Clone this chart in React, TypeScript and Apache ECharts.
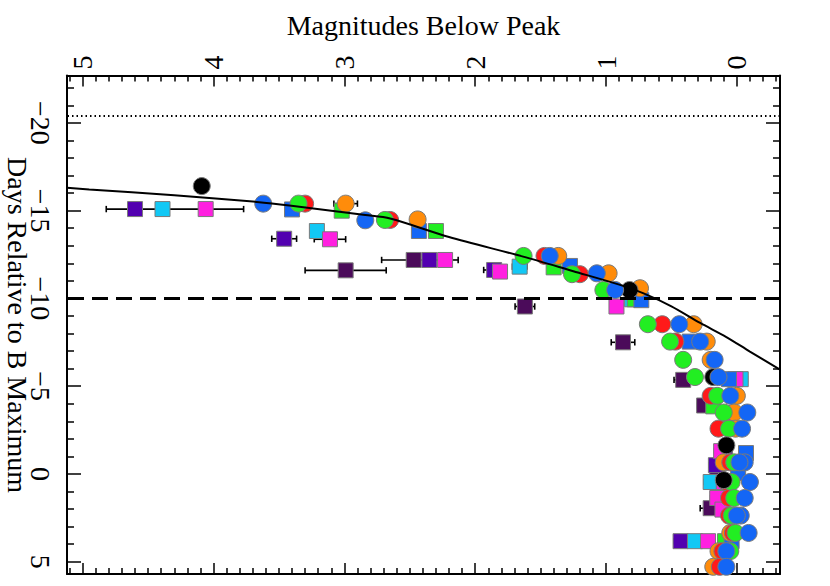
import React, { useEffect, useRef } from 'react';
import * as echarts from 'echarts';

const FONT = '"Liberation Serif", "Times New Roman", serif';

// Axis ranges (magnitudes below peak, days relative to B maximum)
const MAG_MIN = -0.33;
const MAG_MAX = 5.12;
const DAY_MIN = -22.7;
const DAY_MAX = 5.7;

const magTickLabels = [0, 1, 2, 3, 4, 5];
const dayTickLabels = [-20, -15, -10, -5, 0, 5];
const EXPLOSION_DAY = -20.4;
const EARLY_DAY = -10;

const X_TITLE = 'Magnitudes Below Peak';
const Y_TITLE = 'Days Relative to B Maximum';

// Model curve
const curveMag = [5.12, 4.95, 4.3, 3.67, 3.42, 2.84, 2.65, 2.2, 1.633, 1.25, 0.893, 0.717, 0.5, 0.28, 0.08, -0.1, -0.33];
const curveDay = [-16.3, -16.21, -15.88, -15.5, -15.3, -14.75, -14.55, -13.5, -12.38, -11.55, -10.77, -10.3, -9.55, -8.6, -7.8, -6.97, -5.94];

// Squares
const dkPurpleMag = [2.99, 2.47, 1.62, 0.87, 0.41, 0.25, 0.15, 0.2];
const dkPurpleDay = [-11.6, -12.19, -9.54, -7.5, -5.36, -3.9, -0.05, 1.95];
const dkPurpleErr = [0.31, 0.245, 0.075, 0.09, 0.07, 0.05, 0.05, 0.08];

const purpleMag = [4.6, 3.46, 2.35, 1.855, 0.16, 0.09, 0.43];
const purpleDay = [-15.09, -13.4, -12.19, -11.62, -0.5, -1.1, 3.83];
const purpleErr = [0.22, 0.095, 0.1, 0.08, 0.05, 0.05, 0.05];

const cyanMag = [4.39, 3.21, 1.66, 0.8, -0.03, 0.2, 0.32];
const cyanDay = [-15.09, -13.84, -11.81, -9.95, -5.4, 0.46, 3.83];
const cyanErr = [0.05, 0.045, 0.055, 0.03, 0.05, 0.05, 0.045];

const magentaMag = [4.06, 3.11, 2.23, 1.81, 0.92, 0.01, 0.07, 0.12, 0.1, 0.15, 0.11, 0.22];
const magentaDay = [-15.09, -13.37, -12.19, -11.53, -9.54, -5.4, -3.0, -1.3, 0.46, 1.37, 2.03, 3.83];
const magentaErr = [0.29, 0.12, 0.1, 0.05, 0.05, 0.05, 0.05, 0.05, 0.05, 0.05, 0.05, 0.05];

const greenSqMag = [3.02, 2.3, 1.4, 0.78, 0.18, 0.09];
const greenSqDay = [-15.0, -13.84, -11.77, -9.95, -3.85, 3.83];
const greenSqErr = [0.045, 0.045, 0.045, 0.03, 0.05, 0.05];

const blueSqMag = [3.4, 2.43, 1.275, 0.73, 0.36, 0.06, -0.07, -0.01, 0.04];
const blueSqDay = [-15.07, -13.84, -11.85, -9.9, -7.54, -5.4, -1.19, -0.05, 3.83];
const blueSqErr = [0.045, 0.045, 0.045, 0.045, 0.045, 0.045, 0.045, 0.045, 0.045];

// Circles
const orangeMag = [2.99, 2.44, 1.365, 0.98, 0.74, 0.33, 0.23, 0.2, 0.0, 0.02, 0.01, 0.1, 0.05, 0.14, 0.18];
const orangeDay = [-15.4, -14.5, -12.42, -11.43, -10.58, -8.53, -7.54, -6.5, -4.45, -3.5, -2.58, -0.66, 3.36, 4.4, 5.29];
const orangeErr = [0.09, 0.045, 0.045, 0.045, 0.045, 0.045, 0.045, 0.045, 0.045, 0.045, 0.045, 0.045, 0.045, 0.045, 0.045];

const redMag = [3.3, 2.65, 1.47, 1.2, 0.57, 0.47, 0.2, 0.14, 0.05, 0.08, 0.06, 0.06, 0.03, 0.11, 0.13];
const redDay = [-15.4, -14.47, -12.42, -11.38, -8.53, -7.54, -4.45, -2.58, -0.66, 0.46, 1.37, 2.37, 3.36, 4.4, 5.29];
const redErr = [0.045, 0.045, 0.045, 0.045, 0.045, 0.045, 0.045, 0.045, 0.045, 0.045, 0.045, 0.045, 0.045, 0.045, 0.045];

const greenMag = [3.35, 2.69, 1.63, 1.26, 1.02, 0.68, 0.51, 0.41, 0.32, 0.15, 0.1, 0.06, 0.02, 0.04, 0.02, 0.04, 0.01, 0.05];
const greenDay = [-15.4, -14.47, -12.42, -11.38, -10.48, -8.53, -7.54, -6.5, -5.52, -4.45, -3.5, -2.58, -0.66, 0.46, 1.37, 2.37, 3.36, 4.4];
const greenErr = [0.045, 0.045, 0.045, 0.045, 0.045, 0.045, 0.045, 0.045, 0.045, 0.045, 0.045, 0.045, 0.045, 0.045, 0.045, 0.045, 0.045, 0.045];

const blackMag = [4.09, 0.82, 0.18, 0.08, 0.1];
const blackDay = [-16.4, -10.48, -5.52, -1.63, 0.35];

const blueMag = [3.62, 2.84, 1.43, 1.07, 0.93, 0.44, 0.28, 0.17, 0.14, 0.05, -0.08, -0.04, -0.06, -0.02, -0.1, -0.06, -0.03, 0.0, -0.09, 0.08, 0.08];
const blueDay = [-15.4, -14.45, -12.42, -11.43, -10.48, -8.53, -7.54, -6.5, -5.52, -4.45, -3.5, -2.58, -0.66, -0.66, 0.46, 1.37, 2.37, 2.37, 3.36, 4.4, 5.29];
const blueErr = [0.05, 0.045, 0.045, 0.045, 0.045, 0.045, 0.045, 0.045, 0.045, 0.045, 0.045, 0.045, 0.045, 0.045, 0.045, 0.045, 0.045, 0.045, 0.045, 0.045, 0.045];

const minus = (v: number) => String(v).replace('-', '\u2212');

function minorList(from: number, to: number, step: number, skip: number) {
  const out: number[] = [];
  const n = Math.round((to - from) / step);
  for (let i = 0; i <= n; i++) {
    const v = Math.round((from + i * step) * 100) / 100;
    if (Math.abs(v / skip - Math.round(v / skip)) > 1e-6) out.push(v);
  }
  return out;
}

export default function App() {
  const ref = useRef<HTMLDivElement>(null);
  useEffect(() => {
    if (!ref.current) return;
    const chart = echarts.init(ref.current, null, { renderer: 'svg' });
    const magMinor = minorList(-0.3, 5.1, 0.1, 1);
    const dayMinor = minorList(-22, 5, 1, 5);
    const axisColor = '#000';
    const tickStyle = { color: axisColor, width: 1.5 };
    const labelStyle = { fontSize: 28, fontFamily: FONT, color: '#000' };

    const xBase: any = { type: 'value', min: MAG_MIN, max: MAG_MAX, inverse: true, splitLine: { show: false } };
    const yBase: any = { type: 'value', min: DAY_MIN, max: DAY_MAX, inverse: true, splitLine: { show: false } };
    const line = (show: boolean) => ({ show, onZero: false, lineStyle: { color: axisColor, width: 2 } });

    const xAxis = [
      {
        ...xBase, position: 'top', axisLine: line(true),
        axisTick: { show: true, inside: true, length: 11, customValues: magTickLabels, lineStyle: tickStyle },
        axisLabel: { show: true, customValues: magTickLabels, rotate: -90, margin: 6, formatter: minus, ...labelStyle },
        name: X_TITLE, nameLocation: 'middle', nameGap: 36,
        nameTextStyle: { ...labelStyle },
      },
      {
        ...xBase, position: 'top', axisLine: line(false),
        axisTick: { show: true, inside: true, length: 6, customValues: magMinor, lineStyle: tickStyle },
        axisLabel: { show: false },
      },
      {
        ...xBase, position: 'bottom', axisLine: line(true),
        axisTick: { show: true, inside: true, length: 11, customValues: magTickLabels, lineStyle: tickStyle },
        axisLabel: { show: false },
      },
      {
        ...xBase, position: 'bottom', axisLine: line(false),
        axisTick: { show: true, inside: true, length: 6, customValues: magMinor, lineStyle: tickStyle },
        axisLabel: { show: false },
      },
    ];
    const yAxis = [
      {
        ...yBase, position: 'left', axisLine: line(true),
        axisTick: { show: true, inside: true, length: 14, customValues: dayTickLabels, lineStyle: tickStyle },
        axisLabel: { show: true, customValues: dayTickLabels, rotate: -90, margin: 13, formatter: minus, ...labelStyle },
      },
      {
        ...yBase, position: 'left', axisLine: line(false),
        axisTick: { show: true, inside: true, length: 7, customValues: dayMinor, lineStyle: tickStyle },
        axisLabel: { show: false },
      },
      {
        ...yBase, position: 'right', axisLine: line(true),
        axisTick: { show: true, inside: true, length: 14, customValues: dayTickLabels, lineStyle: tickStyle },
        axisLabel: { show: false },
      },
      {
        ...yBase, position: 'right', axisLine: line(false),
        axisTick: { show: true, inside: true, length: 7, customValues: dayMinor, lineStyle: tickStyle },
        axisLabel: { show: false },
      },
    ];

    const groups = [
      { name: 'Dark purple', symbol: 'rect', size: 15, color: '#4b0b5a', mag: dkPurpleMag, day: dkPurpleDay, err: dkPurpleErr },
      { name: 'Purple', symbol: 'rect', size: 15, color: '#5200b0', mag: purpleMag, day: purpleDay, err: purpleErr },
      { name: 'Cyan', symbol: 'rect', size: 15, color: '#12c8f5', mag: cyanMag, day: cyanDay, err: cyanErr },
      { name: 'Magenta', symbol: 'rect', size: 15, color: '#ff20e0', mag: magentaMag, day: magentaDay, err: magentaErr },
      { name: 'Green square', symbol: 'rect', size: 15, color: '#22ee22', mag: greenSqMag, day: greenSqDay, err: greenSqErr },
      { name: 'Blue square', symbol: 'rect', size: 15, color: '#1466f5', mag: blueSqMag, day: blueSqDay, err: blueSqErr },
      { name: 'Orange', symbol: 'circle', size: 17, color: '#ff8c0a', mag: orangeMag, day: orangeDay, err: orangeErr },
      { name: 'Red', symbol: 'circle', size: 17, color: '#ff1a1a', mag: redMag, day: redDay, err: redErr },
      { name: 'Green', symbol: 'circle', size: 17, color: '#22ee22', mag: greenMag, day: greenDay, err: greenErr },
      { name: 'Black', symbol: 'circle', size: 17, color: '#000000', mag: blackMag, day: blackDay, err: null as any },
      { name: 'Blue', symbol: 'circle', size: 17, color: '#1466f5', mag: blueMag, day: blueDay, err: blueErr },
    ];

    const series: any[] = [];
    groups.forEach((g) => {
      series.push({
        name: g.name, type: 'scatter', xAxisIndex: 0, yAxisIndex: 0,
        symbol: g.symbol, symbolSize: g.size,
        itemStyle: { color: g.color, borderColor: '#7a7a7a', borderWidth: 1, opacity: 1 },
        data: g.mag.map((m: number, i: number) => [m, g.day[i]]),
        silent: true,
      });
      if (g.err) {
        series.push({
          name: g.name + ' err', type: 'custom', xAxisIndex: 0, yAxisIndex: 0,
          encode: { x: 0, y: 1 },
          data: g.mag.map((m: number, i: number) => [m, g.day[i], g.err[i]]),
          silent: true,
          renderItem: (params: any, api: any) => {
            const m = api.value(0), d = api.value(1), e = api.value(2);
            const p1 = api.coord([m - e, d]);
            const p2 = api.coord([m + e, d]);
            const h = 3.2;
            const st = { stroke: '#000', lineWidth: 1.6 };
            return {
              type: 'group',
              children: [
                { type: 'line', shape: { x1: p1[0], y1: p1[1], x2: p2[0], y2: p2[1] }, style: st },
                { type: 'line', shape: { x1: p1[0], y1: p1[1] - h, x2: p1[0], y2: p1[1] + h }, style: st },
                { type: 'line', shape: { x1: p2[0], y1: p2[1] - h, x2: p2[0], y2: p2[1] + h }, style: st },
              ],
            };
          },
        });
      }
    });

    series.push({
      name: 'Model', type: 'line', xAxisIndex: 0, yAxisIndex: 0,
      data: curveMag.map((m, i) => [m, curveDay[i]]),
      smooth: 0.3, showSymbol: false, symbol: 'none', silent: true,
      lineStyle: { color: '#000', width: 2 },
      markLine: {
        silent: true, symbol: 'none', label: { show: false },
        data: [
          { yAxis: EXPLOSION_DAY, lineStyle: { color: '#000', width: 2, type: [1.5, 3] } },
          { yAxis: EARLY_DAY, lineStyle: { color: '#000', width: 3, type: [16, 8] } },
        ],
      },
    });

    chart.setOption({
      animation: false,
      backgroundColor: '#fff',
      grid: { left: 67, right: 50, top: 75.5, bottom: 12, containLabel: false, outerBoundsMode: 'none' },
      xAxis,
      yAxis,
      series,
      graphic: [
        {
          type: 'text', x: 17, y: 325, rotation: -Math.PI / 2, silent: true,
          style: {
            text: Y_TITLE, fontSize: 28, fontFamily: FONT, fill: '#000',
            align: 'center', verticalAlign: 'middle',
          },
        },
      ],
    });
    return () => chart.dispose();
  }, []);
  return <div ref={ref} style={{ position: 'fixed', left: 0, top: 0, width: 830, height: 586, background: '#fff' }} />;
}
